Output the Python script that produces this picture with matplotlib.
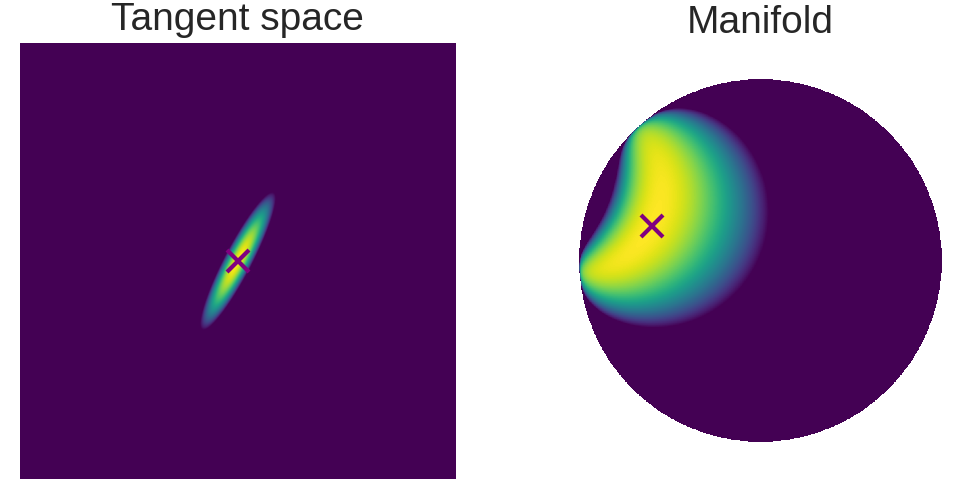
"""Wrapped normal: Gaussian in the tangent space and its push-forward on the Poincare disk."""

import matplotlib.pyplot as plt
import numpy as np

# values
MEAN_DISK = np.array([-0.60, 0.19])           # mean of the distribution on the disk
COV = np.array([[0.3, 0.5], [0.5, 1.0]])      # covariance in the tangent space
TANGENT_LIM = 11.4                             # tangent plot spans [-lim, lim]
LOG_FLOOR = -6.5                               # log-density shown down to this value
TITLES = ["Tangent space", "Manifold"]

FIG_W, FIG_H, DPI = 956, 479, 100
TEXT_COLOR = "#262626"


def mobius_add(x, y):
    xy = np.sum(x * y, axis=-1, keepdims=True)
    x2 = np.sum(x * x, axis=-1, keepdims=True)
    y2 = np.sum(y * y, axis=-1, keepdims=True)
    num = (1 + 2 * xy + y2) * x + (1 - x2) * y
    den = 1 + 2 * xy + x2 * y2
    return num / den


def log_gauss(v):
    prec = np.linalg.inv(COV)
    return -0.5 * np.einsum("...i,ij,...j->...", v, prec, v)


def tangent_grid(n=600):
    xs = np.linspace(-TANGENT_LIM, TANGENT_LIM, n)
    gx, gy = np.meshgrid(xs, xs)
    return log_gauss(np.stack([gx, gy], axis=-1))


def disk_grid(n=900):
    xs = np.linspace(-1, 1, n)
    gx, gy = np.meshgrid(xs, xs)
    z = np.stack([gx, gy], axis=-1)
    inside = np.hypot(gx, gy) < 1
    z = np.where(inside[..., None], z, 0.0)
    w = mobius_add(-MEAN_DISK, z)
    wn = np.linalg.norm(w, axis=-1, keepdims=True)
    wn_safe = np.clip(wn, 1e-12, 1 - 1e-12)
    u = np.arctanh(wn_safe) * w / wn_safe
    logp = log_gauss(u)
    logp[~inside] = np.nan
    return logp


def px_axes(fig, x0, y0, w, h):
    # rectangle given in pixels from the top-left corner
    return fig.add_axes([x0 / FIG_W, 1 - (y0 + h) / FIG_H, w / FIG_W, h / FIG_H])


def main():
    fig = plt.figure(figsize=(FIG_W / DPI, FIG_H / DPI), dpi=DPI)
    cmap = plt.get_cmap("viridis").copy()
    cmap.set_bad((1, 1, 1, 0))

    ax_t = px_axes(fig, 19.5, 43, 436, 436)
    ax_t.imshow(tangent_grid(), origin="lower", cmap=cmap, vmin=LOG_FLOOR, vmax=0,
                extent=[-TANGENT_LIM, TANGENT_LIM, -TANGENT_LIM, TANGENT_LIM],
                interpolation="bilinear")
    ax_t.plot(0, 0, "x", color="purple", markersize=16, mew=3)
    ax_t.set_xlim(-TANGENT_LIM, TANGENT_LIM)
    ax_t.set_ylim(-TANGENT_LIM, TANGENT_LIM)
    ax_t.axis("off")

    ax_m = px_axes(fig, 579, 79, 363, 363)
    ax_m.imshow(disk_grid(), origin="lower", cmap=cmap, vmin=LOG_FLOOR, vmax=0,
                extent=[-1, 1, -1, 1], interpolation="nearest")
    ax_m.plot(MEAN_DISK[0], MEAN_DISK[1], "x", color="purple", markersize=16, mew=3)
    ax_m.set_xlim(-1, 1)
    ax_m.set_ylim(-1, 1)
    ax_m.axis("off")

    for text, xc, base in zip(TITLES, [237.5, 760.5], [30, 33]):
        fig.text(xc / FIG_W, 1 - base / FIG_H, text, ha="center", va="baseline",
                 fontsize=28, color=TEXT_COLOR, family=["Liberation Sans", "DejaVu Sans"])

    fig.savefig("out.png", dpi=DPI)
    plt.close(fig)


if __name__ == "__main__":
    main()
